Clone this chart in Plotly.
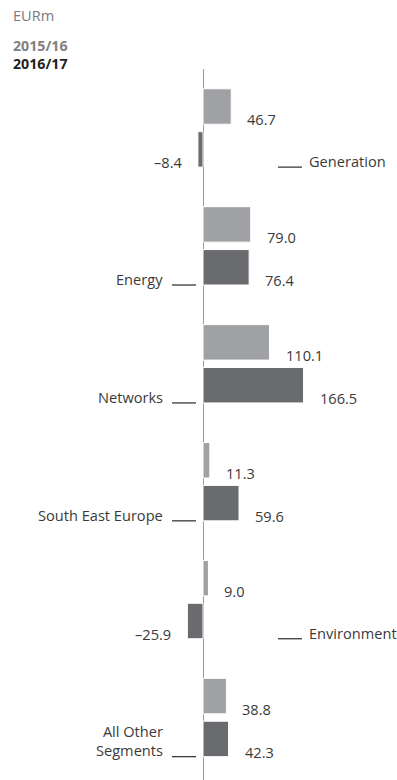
import plotly.graph_objects as go

categories = ["Generation", "Energy", "Networks", "South East Europe", "Environment", "All Other Segments"]
cat_labels = ["Generation", "Energy", "Networks", "South East Europe", "Environment", "All Other<br>Segments"]
values_1516 = [46.7, 79.0, 110.1, 11.3, 9.0, 38.8]
values_1617 = [-8.4, 76.4, 166.5, 59.6, -25.9, 42.3]
series_names = ["2015/16", "2016/17"]

LIGHT = "#a0a1a4"
DARK = "#6a6b6f"
TEXT = "#3a3a3a"
FONT = "Open Sans"
FS = 14.6

BARGAP = 0.273
BARGROUPGAP = 0.1725

fig = go.Figure()
fig.add_trace(go.Bar(y=categories, x=values_1516, orientation="h", name=series_names[0],
                     marker=dict(color=LIGHT, line=dict(color="white", width=1)),
                     hoverinfo="x+y"))
fig.add_trace(go.Bar(y=categories, x=values_1617, orientation="h", name=series_names[1],
                     marker=dict(color=DARK, line=dict(color="white", width=1)),
                     hoverinfo="x+y"))

w = 1 - BARGAP
slot = w / 2
top_bottom = -slot * BARGROUPGAP / 2          # bottom edge of first bar (relative)
dark_bottom = slot * (1 - BARGROUPGAP / 2)     # bottom edge of second bar (relative)

annotations = []
shapes = []
for i, cat in enumerate(categories):
    for val, off in ((values_1516[i], top_bottom), (values_1617[i], dark_bottom)):
        pos = val >= 0
        annotations.append(dict(
            x=val, y=i + off, xref="x", yref="y",
            text=f"{val:.1f}".replace("-", "\u2013"),
            showarrow=False, xanchor="left" if pos else "right",
            xshift=14 if pos else -14, yanchor="middle", yshift=5,
            font=dict(family=FONT, size=FS, color=TEXT)))
    neg = values_1617[i] < 0
    yline = i + dark_bottom
    if neg:
        shapes.append(dict(type="line", xref="x", yref="y", xsizemode="pixel", xanchor=0,
                           x0=75, x1=99, y0=yline, y1=yline,
                           line=dict(color="#2a2a2a", width=1.2)))
        annotations.append(dict(x=0, y=yline, xref="x", yref="y", text=cat_labels[i],
                                showarrow=False, xanchor="left", xshift=104, yanchor="middle",
                                yshift=6, align="left",
                                font=dict(family=FONT, size=FS, color=TEXT)))
    else:
        multi = "<br>" in cat_labels[i]
        shapes.append(dict(type="line", xref="x", yref="y", xsizemode="pixel", xanchor=0,
                           x0=-31, x1=-7, y0=yline, y1=yline,
                           line=dict(color="#2a2a2a", width=1.2)))
        annotations.append(dict(x=0, y=yline, xref="x", yref="y", text=cat_labels[i],
                                showarrow=False, xanchor="right", xshift=-38, yanchor="middle",
                                yshift=16 if multi else 6, align="right",
                                font=dict(family=FONT, size=FS, color=TEXT)))

# header
legend_text = ("<b><span style='color:#808080'>" + series_names[0] + "</span><br>"
               "<span style='color:#222222'>" + series_names[1] + "</span></b>")
annotations += [
    dict(x=0, y=1, xref="paper", yref="paper", text="EURm", showarrow=False,
         xanchor="left", xshift=11, yanchor="middle", yshift=54,
         font=dict(family=FONT, size=14.6, color="#7a7a7a")),
    dict(x=0, y=1, xref="paper", yref="paper", text=legend_text, showarrow=False,
         xanchor="left", xshift=11, yanchor="middle", yshift=15, align="left",
         font=dict(family=FONT, size=14.2, color="#222222")),
]

fig.update_layout(
    width=397, height=780,
    margin=dict(l=0, r=0, t=69, b=0),
    paper_bgcolor="white", plot_bgcolor="white",
    barmode="group", bargap=BARGAP, bargroupgap=BARGROUPGAP,
    showlegend=False,
    xaxis=dict(range=[-336.1, 321.2], showgrid=False, showticklabels=False, ticks="",
               zeroline=True, zerolinecolor="#9a9a9a", zerolinewidth=1, fixedrange=True),
    yaxis=dict(range=[5.53, -0.5], showgrid=False, showticklabels=False, ticks="",
               zeroline=False, fixedrange=True),
    annotations=annotations, shapes=shapes,
    font=dict(family=FONT, size=FS, color=TEXT),
)

fig.write_html("out.html")
